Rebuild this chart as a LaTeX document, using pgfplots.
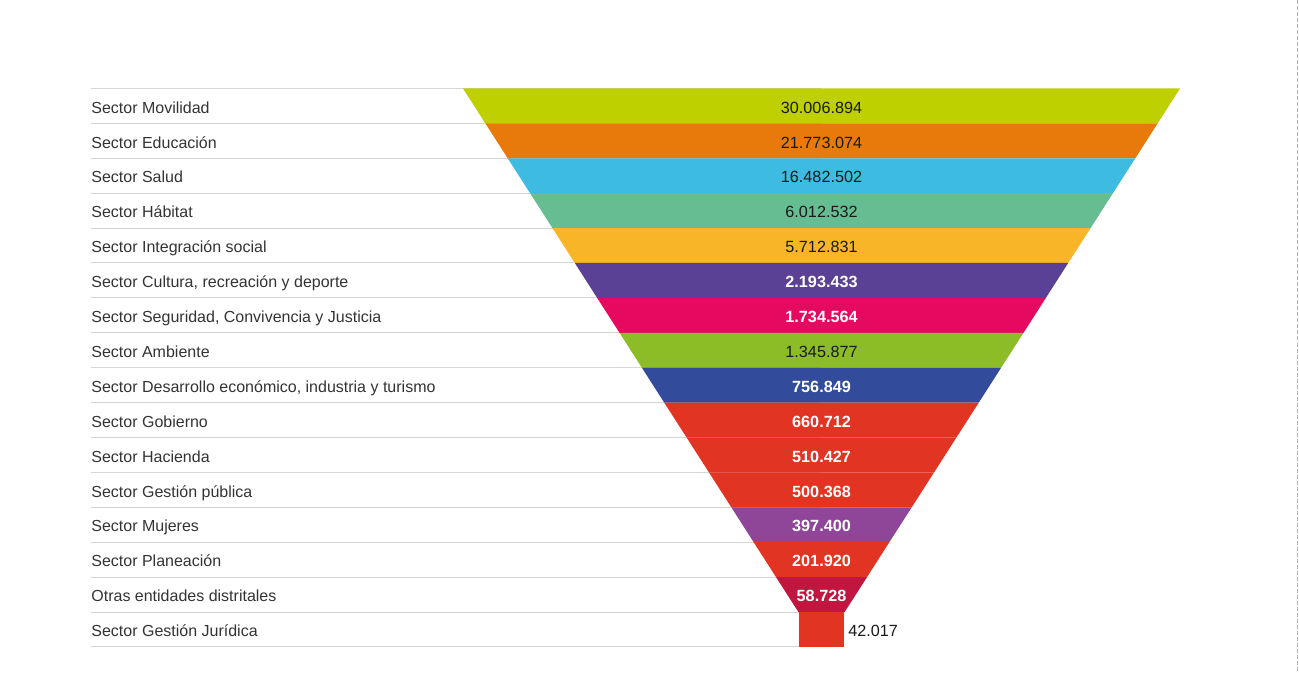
\documentclass[border=0pt]{standalone}
\usepackage{pgfplots}
\pgfplotsset{compat=1.18}
\usepackage{fontspec}
\setmainfont{Liberation Sans}
\definecolor{cMov}{HTML}{BFD000}
\definecolor{cEdu}{HTML}{E87A0C}
\definecolor{cSal}{HTML}{3DBBE0}
\definecolor{cHab}{HTML}{66BD91}
\definecolor{cInt}{HTML}{F8B527}
\definecolor{cCul}{HTML}{5B4195}
\definecolor{cSeg}{HTML}{E5095F}
\definecolor{cAmb}{HTML}{8CBD26}
\definecolor{cDes}{HTML}{324B9A}
\definecolor{cRed}{HTML}{E23423}
\definecolor{cMuj}{HTML}{8F4698}
\definecolor{cOtr}{HTML}{C0163F}
\definecolor{gridc}{HTML}{D6D6D6}
\definecolor{labc}{HTML}{333333}
\newcommand{\catf}{\fontsize{8.0}{9.6}\selectfont}
\newcommand{\valf}{\fontsize{8.1}{9.7}\selectfont}
\begin{document}
\begin{tikzpicture}
\begin{axis}[
  scale only axis, width=649.5pt, height=336pt,
  xmin=0, xmax=1299, ymin=0, ymax=672, y dir=reverse,
  hide axis, clip=false,
]
\path (axis cs:0,0) rectangle (axis cs:1299,672);
% grid lines
\draw[gridc, line width=0.5pt] (axis cs:91,88) -- (axis cs:821,88);
\draw[gridc, line width=0.5pt] (axis cs:91,122.9) -- (axis cs:821,122.9);
\draw[gridc, line width=0.5pt] (axis cs:91,157.8) -- (axis cs:821,157.8);
\draw[gridc, line width=0.5pt] (axis cs:91,192.7) -- (axis cs:821,192.7);
\draw[gridc, line width=0.5pt] (axis cs:91,227.6) -- (axis cs:821,227.6);
\draw[gridc, line width=0.5pt] (axis cs:91,262.5) -- (axis cs:821,262.5);
\draw[gridc, line width=0.5pt] (axis cs:91,297.4) -- (axis cs:821,297.4);
\draw[gridc, line width=0.5pt] (axis cs:91,332.3) -- (axis cs:821,332.3);
\draw[gridc, line width=0.5pt] (axis cs:91,367.2) -- (axis cs:821,367.2);
\draw[gridc, line width=0.5pt] (axis cs:91,402.1) -- (axis cs:821,402.1);
\draw[gridc, line width=0.5pt] (axis cs:91,437.0) -- (axis cs:821,437.0);
\draw[gridc, line width=0.5pt] (axis cs:91,471.9) -- (axis cs:821,471.9);
\draw[gridc, line width=0.5pt] (axis cs:91,506.8) -- (axis cs:821,506.8);
\draw[gridc, line width=0.5pt] (axis cs:91,541.7) -- (axis cs:821,541.7);
\draw[gridc, line width=0.5pt] (axis cs:91,576.6) -- (axis cs:821,576.6);
\draw[gridc, line width=0.5pt] (axis cs:91,611.5) -- (axis cs:821,611.5);
\draw[gridc, line width=0.5pt] (axis cs:91,646.4) -- (axis cs:844,646.4);
% right dashed border
\draw[gray!60, line width=0.5pt, dash pattern=on 2pt off 1pt] (axis cs:1297.5,0) -- (axis cs:1297.5,672);
% funnel segments
\addplot[fill=cMov, draw=none] coordinates {(463,88) (1180,88) (1157.64,122.9) (485.36,122.9)} -- cycle;
\addplot[fill=cEdu, draw=none] coordinates {(485.36,122.9) (1157.64,122.9) (1135.29,157.8) (507.71,157.8)} -- cycle;
\addplot[fill=cSal, draw=none] coordinates {(507.71,157.8) (1135.29,157.8) (1112.93,192.7) (530.07,192.7)} -- cycle;
\addplot[fill=cHab, draw=none] coordinates {(530.07,192.7) (1112.93,192.7) (1090.57,227.6) (552.43,227.6)} -- cycle;
\addplot[fill=cInt, draw=none] coordinates {(552.43,227.6) (1090.57,227.6) (1068.21,262.5) (574.79,262.5)} -- cycle;
\addplot[fill=cCul, draw=none] coordinates {(574.79,262.5) (1068.21,262.5) (1045.86,297.4) (597.14,297.4)} -- cycle;
\addplot[fill=cSeg, draw=none] coordinates {(597.14,297.4) (1045.86,297.4) (1023.50,332.3) (619.50,332.3)} -- cycle;
\addplot[fill=cAmb, draw=none] coordinates {(619.50,332.3) (1023.50,332.3) (1001.14,367.2) (641.86,367.2)} -- cycle;
\addplot[fill=cDes, draw=none] coordinates {(641.86,367.2) (1001.14,367.2) (978.78,402.1) (664.22,402.1)} -- cycle;
\addplot[fill=cRed, draw=none] coordinates {(664.22,402.1) (978.78,402.1) (956.43,437.0) (686.57,437.0)} -- cycle;
\addplot[fill=cRed, draw=none] coordinates {(686.57,437.0) (956.43,437.0) (934.07,471.9) (708.93,471.9)} -- cycle;
\addplot[fill=cRed, draw=none] coordinates {(708.93,471.9) (934.07,471.9) (911.71,506.8) (731.29,506.8)} -- cycle;
\addplot[fill=cMuj, draw=none] coordinates {(731.29,506.8) (911.71,506.8) (889.36,541.7) (753.64,541.7)} -- cycle;
\addplot[fill=cRed, draw=none] coordinates {(753.64,541.7) (889.36,541.7) (867.00,576.6) (776.00,576.6)} -- cycle;
\addplot[fill=cOtr, draw=none] coordinates {(776.00,576.6) (867.00,576.6) (844.64,611.5) (798.36,611.5)} -- cycle;
\addplot[fill=cRed, draw=none] coordinates {(798.9,611.5) (843.6,611.5) (843.6,646.4) (798.9,646.4)} -- cycle;
% category labels
\begin{scope}[every node/.style={anchor=west, inner sep=0pt, text=labc, font=\catf, text height=0.72em, text depth=0pt}]
\node at (axis cs:91,105.45) {Sector Movilidad};
\node at (axis cs:91,140.35) {Sector Educación};
\node at (axis cs:91,175.25) {Sector Salud};
\node at (axis cs:91,210.15) {Sector Hábitat};
\node at (axis cs:91,245.05) {Sector Integración social};
\node at (axis cs:91,279.95) {Sector Cultura, recreación y deporte};
\node at (axis cs:91,314.85) {Sector Seguridad, Convivencia y Justicia};
\node at (axis cs:91,349.75) {Sector Ambiente};
\node at (axis cs:91,384.65) {Sector Desarrollo económico, industria y turismo};
\node at (axis cs:91,419.55) {Sector Gobierno};
\node at (axis cs:91,454.45) {Sector Hacienda};
\node at (axis cs:91,489.35) {Sector Gestión pública};
\node at (axis cs:91,524.25) {Sector Mujeres};
\node at (axis cs:91,559.15) {Sector Planeación};
\node at (axis cs:91,594.05) {Otras entidades distritales};
\node at (axis cs:91,628.95) {Sector Gestión Jurídica};
\end{scope}
% value labels
\begin{scope}[every node/.style={anchor=center, inner sep=0pt, font=\valf, text height=0.72em, text depth=0pt}]
\node[text=black!90] at (axis cs:821.5,105.45) {30.006.894};
\node[text=black!90] at (axis cs:821.5,140.35) {21.773.074};
\node[text=black!90] at (axis cs:821.5,175.25) {16.482.502};
\node[text=black!90] at (axis cs:821.5,210.15) {6.012.532};
\node[text=black!90] at (axis cs:821.5,245.05) {5.712.831};
\node[text=white] at (axis cs:821.5,279.95) {\bfseries 2.193.433};
\node[text=white] at (axis cs:821.5,314.85) {\bfseries 1.734.564};
\node[text=black!90] at (axis cs:821.5,349.75) {1.345.877};
\node[text=white] at (axis cs:821.5,384.65) {\bfseries 756.849};
\node[text=white] at (axis cs:821.5,419.55) {\bfseries 660.712};
\node[text=white] at (axis cs:821.5,454.45) {\bfseries 510.427};
\node[text=white] at (axis cs:821.5,489.35) {\bfseries 500.368};
\node[text=white] at (axis cs:821.5,524.25) {\bfseries 397.400};
\node[text=white] at (axis cs:821.5,559.15) {\bfseries 201.920};
\node[text=white] at (axis cs:821.5,594.05) {\bfseries 58.728};
\node[text=black!90, anchor=west] at (axis cs:848,628.95) {42.017};
\end{scope}
\end{axis}
\end{tikzpicture}
\end{document}
